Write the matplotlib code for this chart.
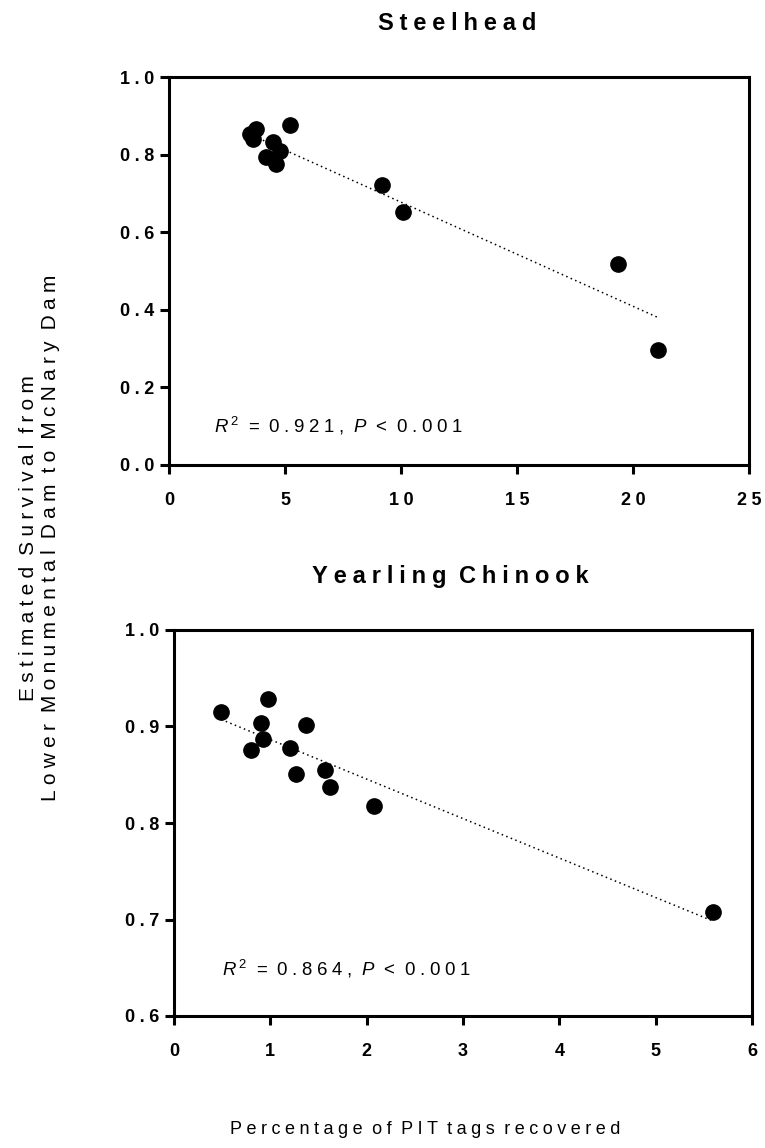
import numpy as np
import matplotlib
matplotlib.use("Agg")
import matplotlib.pyplot as plt

# Steelhead: % PIT tags recovered vs estimated survival
steel_pct = [3.47, 3.76, 3.63, 5.23, 4.49, 4.77, 4.16, 4.60, 9.17, 10.08, 19.37, 21.07]
steel_surv = [0.853, 0.865, 0.839, 0.876, 0.833, 0.809, 0.795, 0.775, 0.721, 0.651, 0.519, 0.296]

# Yearling Chinook
chin_pct = [0.49, 0.98, 0.90, 1.37, 0.92, 0.80, 1.20, 1.27, 1.57, 1.62, 2.08, 5.59]
chin_surv = [0.915, 0.928, 0.904, 0.902, 0.887, 0.876, 0.878, 0.851, 0.855, 0.837, 0.818, 0.708]

steel_xticks = [0, 5, 10, 15, 20, 25]
steel_yticks = [0.0, 0.2, 0.4, 0.6, 0.8, 1.0]
chin_xticks = [0, 1, 2, 3, 4, 5, 6]
chin_yticks = [0.6, 0.7, 0.8, 0.9, 1.0]

steel_stats = ("0.921", "0.001")
chin_stats = ("0.864", "0.001")

FAM = ["Liberation Sans", "DejaVu Sans"]
plt.rcParams["font.family"] = FAM
plt.rcParams["mathtext.fontset"] = "custom"
plt.rcParams["mathtext.rm"] = "Liberation Sans"
plt.rcParams["mathtext.it"] = "Liberation Sans:italic"

GAP = "\u2005"


def spaced(s, gap=GAP):
    """Add tracking between letters (wide letter-spacing look)."""
    out = gap.join(s)
    return out.replace(f"{gap} {gap}", f" {gap}")


W, H = 765, 1148
fig = plt.figure(figsize=(W / 100, H / 100), dpi=100)


def px_axes(left, top, right, bottom):
    return fig.add_axes([left / W, 1 - bottom / H, (right - left) / W, (bottom - top) / H])


ax1 = px_axes(169, 77, 749, 465)
ax2 = px_axes(174, 630, 752, 1016)


def draw_panel(ax, x, y, xticks, yticks, title, title_x, stats, ann_xy):
    x = np.asarray(x)
    y = np.asarray(y)
    slope, inter = np.polyfit(x, y, 1)
    xs = np.array([x.min(), x.max()])
    ax.plot(xs, slope * xs + inter, color="black", lw=1.1, ls=(0, (1, 2.2)), zorder=2)
    ax.plot(x, y, "o", color="black", ms=11, zorder=3)
    ax.set_xlim(xticks[0], xticks[-1])
    ax.set_ylim(yticks[0], yticks[-1])
    ax.set_xticks(xticks)
    ax.set_yticks(yticks)
    ax.set_xticklabels([spaced(str(t)) for t in xticks], fontsize=13, fontweight="bold")
    ax.set_yticklabels([spaced(f"{t:.1f}") for t in yticks], fontsize=13, fontweight="bold")
    for sp in ax.spines.values():
        sp.set_linewidth(2.2)
    ax.tick_params(direction="out", length=6.5, width=2.2)
    ax.tick_params(axis="x", pad=13)
    ax.tick_params(axis="y", pad=4)
    ax.set_title(spaced(title), fontsize=17, fontweight="bold", pad=34, x=title_x)
    r2, p = stats
    ax.text(ann_xy[0], ann_xy[1],
            r"$\mathit{R}^{\,2}$" + spaced(f" = {r2}, ") + r"$\mathit{P}$" + spaced(f" < {p}"),
            transform=ax.transAxes, fontsize=13.4, ha="left", va="baseline")


draw_panel(ax1, steel_pct, steel_surv, steel_xticks, steel_yticks,
           "Steelhead", 0.497, steel_stats, (0.078, 0.085))
draw_panel(ax2, chin_pct, chin_surv, chin_xticks, chin_yticks,
           "Yearling Chinook", 0.478, chin_stats, (0.083, 0.105))

fig.text(425 / W, 1 - 1130 / H, spaced("Percentage of PIT tags recovered"),
         fontsize=13, ha="center", va="center")
fig.text(40 / W, 1 - 538 / H,
         spaced("Estimated Survival from") + "\n" + spaced("Lower Monumental Dam to McNary Dam"),
         fontsize=15, ha="center", va="center", rotation=90, linespacing=1.2,
         multialignment="center")

fig.savefig("out.png", dpi=100, facecolor="white")
